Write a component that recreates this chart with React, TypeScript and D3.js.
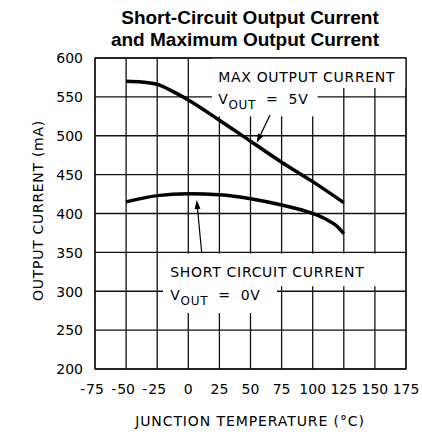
import React from 'react';
import * as d3 from 'd3';

// values
const tempTicks = [-75, -50, -25, 0, 25, 50, 75, 100, 125, 150, 175];
const currentTicks = [200, 250, 300, 350, 400, 450, 500, 550, 600];

const maxTemp = [-50, -37.5, -25, -12.5, 0, 25, 50, 75, 100, 125];
const maxCurrent = [570, 569, 566, 557, 546, 520, 493, 466, 441, 414];

const shortTemp = [-50, -25, 0, 25, 50, 75, 100, 112.5, 120, 125];
const shortCurrent = [415, 423, 425.5, 424, 419, 411, 400, 391, 383, 374];

const titleLines = ['Short-Circuit Output Current', 'and Maximum Output Current'];

const W = 422;
const H = 434;
const dms = {
  left: 95, right: 406, top: 58, bottom: 369,
};
const font = '"DejaVu Sans", sans-serif';
const ink = '#000';

const Arrow = ({
  x1, y1, x2, y2,
}: { x1: number; y1: number; x2: number; y2: number }) => {
  const a = Math.atan2(y2 - y1, x2 - x1);
  const len = 9;
  const w = 3;
  const bx = x2 - len * Math.cos(a);
  const by = y2 - len * Math.sin(a);
  const px = -Math.sin(a) * w;
  const py = Math.cos(a) * w;
  return (
    <g>
      <line x1={x1} y1={y1} x2={bx} y2={by} stroke={ink} strokeWidth={1.2} />
      <path d={`M${x2},${y2}L${bx + px},${by + py}L${bx - px},${by - py}Z`} fill={ink} />
    </g>
  );
};

const App = () => {
  const x = d3.scaleLinear().domain([-75, 175]).range([dms.left, dms.right]);
  const y = d3.scaleLinear().domain([200, 600]).range([dms.bottom, dms.top]);

  const line = d3.line<[number, number]>()
    .x((d) => x(d[0]))
    .y((d) => y(d[1]))
    .curve(d3.curveMonotoneX);

  const maxPath = line(maxTemp.map((t, i) => [t, maxCurrent[i]])) as string;
  const shortPath = line(shortTemp.map((t, i) => [t, shortCurrent[i]])) as string;

  // white label boxes in data units [t0, t1, v0, v1]
  const boxes = [
    [19, 175, 600, 561.5],
    [19, 104, 561.5, 525],
    [-20.3, 154, 348.5, 306.5],
    [-20.3, 71.3, 306.5, 272],
  ];

  const digitW = 8.9;

  return (
    <svg width={W} height={H} style={{ position: 'absolute', left: 0, top: 0, background: '#fff' }}>
      <rect width={W} height={H} fill="#fff" />
      {titleLines.map((t, i) => (
        <text
          key={t}
          x={i === 0 ? 250 : 245}
          y={24 + i * 21.5}
          textAnchor="middle"
          fontFamily='"Liberation Sans", Arial, sans-serif'
          fontWeight="bold"
          fontSize={19}
          fill={ink}
        >
          {t}
        </text>
      ))}

      {/* grid */}
      <g stroke="#111" strokeWidth={1.3}>
        {tempTicks.map((t) => (
          <line key={`v${t}`} x1={x(t)} x2={x(t)} y1={dms.top} y2={dms.bottom} />
        ))}
        {currentTicks.map((v) => (
          <line key={`h${v}`} x1={dms.left} x2={dms.right} y1={y(v)} y2={y(v)} />
        ))}
      </g>

      {boxes.map((b) => (
        <rect
          key={b.join('-')}
          x={x(b[0])}
          y={y(b[2])}
          width={x(b[1]) - x(b[0])}
          height={y(b[3]) - y(b[2])}
          fill="#fff"
        />
      ))}
      <rect
        x={dms.left}
        y={dms.top}
        width={dms.right - dms.left}
        height={dms.bottom - dms.top}
        fill="none"
        stroke="#111"
        strokeWidth={1.3}
      />

      {/* curves */}
      <path d={maxPath} fill="none" stroke={ink} strokeWidth={3.5} />
      <path d={shortPath} fill="none" stroke={ink} strokeWidth={3.5} />

      {/* annotations */}
      <g fontFamily={font} fontSize={14} fill={ink} letterSpacing={0.7}>
        <text x={x(24)} y={81.7}>MAX OUTPUT CURRENT</text>
        <text x={x(24)} y={103.5}>
          V
          <tspan fontSize={12} dy={5}>OUT</tspan>
          <tspan dy={-5} dx={10}>=</tspan>
          <tspan dx={10}>5V</tspan>
        </text>
        <text x={x(-14.5)} y={276.7}>SHORT CIRCUIT CURRENT</text>
        <text x={x(-14.5)} y={300}>
          V
          <tspan fontSize={12} dy={5}>OUT</tspan>
          <tspan dy={-5} dx={10}>=</tspan>
          <tspan dx={10}>0V</tspan>
        </text>
      </g>
      <Arrow x1={x(65.7)} y1={y(526.7)} x2={x(55)} y2={y(491)} />
      <Arrow x1={x(10.8)} y1={y(348.8)} x2={x(6.75)} y2={y(417.4)} />

      {/* y ticks */}
      <g fontFamily={font} fontSize={14} fill={ink} textAnchor="end">
        {currentTicks.map((v) => (
          <text key={v} x={83} y={y(v)} dy="0.38em">{v}</text>
        ))}
      </g>

      {/* x ticks */}
      <g fontFamily={font} fontSize={14} fill={ink}>
        {tempTicks.map((t) => {
          const s = String(Math.abs(t));
          return (
            <g key={t}>
              <text x={x(t)} y={393.5} textAnchor="middle">{s}</text>
              {t < 0 && (
                <text x={x(t) - (s.length * digitW) / 2 - 1} y={393.5} textAnchor="end">-</text>
              )}
            </g>
          );
        })}
      </g>

      <text
        x={250}
        y={426}
        textAnchor="middle"
        fontFamily={font}
        fontSize={14}
        letterSpacing={0.9}
        fill={ink}
      >
        JUNCTION TEMPERATURE (°C)
      </text>
      <text
        transform={`translate(43, ${(dms.top + dms.bottom) / 2 - 3}) rotate(-90)`}
        textAnchor="middle"
        fontFamily={font}
        fontSize={14}
        letterSpacing={0.7}
        fill={ink}
      >
        OUTPUT CURRENT (mA)
      </text>
    </svg>
  );
};

export default App;
